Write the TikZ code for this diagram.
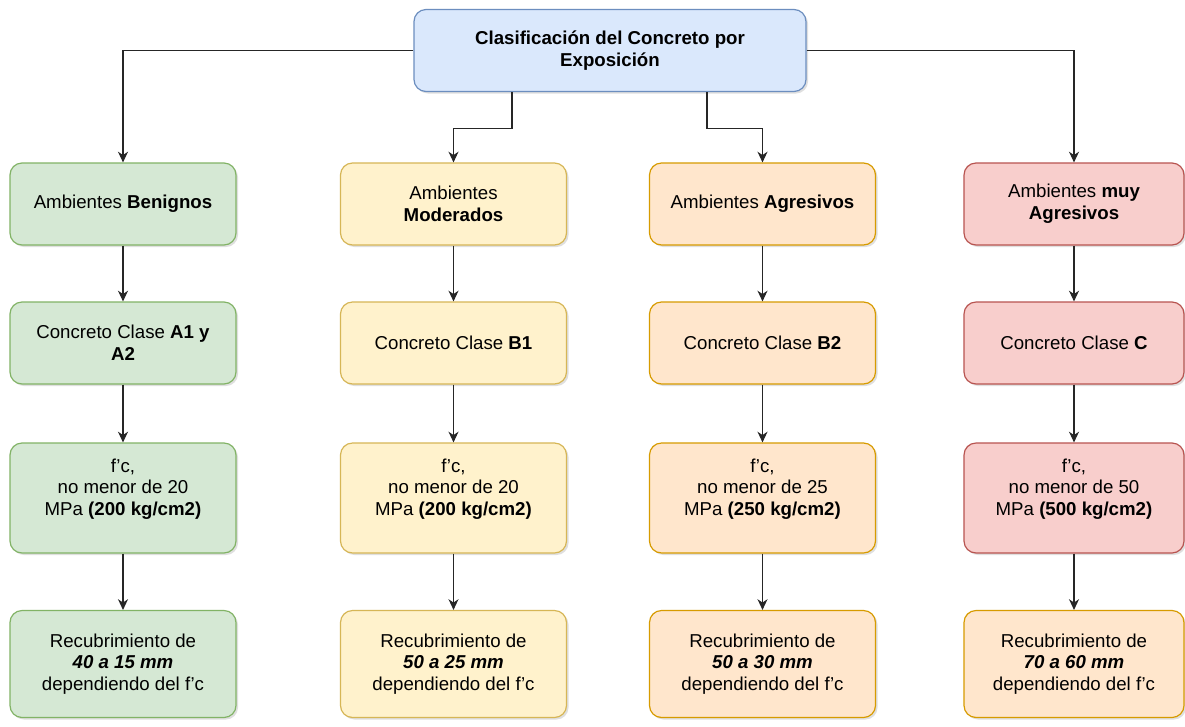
\documentclass[tikz,border=0pt]{standalone}
\usepackage{fontspec}
\setmainfont{Liberation Sans}
\usepackage{tikz}
\usetikzlibrary{shapes.geometric,arrows,arrows.meta,shadows}

\definecolor{bluefill}{HTML}{DAE8FC}
\definecolor{bluedraw}{HTML}{6C8EBF}
\definecolor{greenfill}{HTML}{D5E8D4}
\definecolor{greendraw}{HTML}{82B366}
\definecolor{yellowfill}{HTML}{FFF2CC}
\definecolor{yellowdraw}{HTML}{D6B656}
\definecolor{orangefill}{HTML}{FFE6CC}
\definecolor{orangedraw}{HTML}{D79B00}
\definecolor{redfill}{HTML}{F8CECC}
\definecolor{reddraw}{HTML}{B85450}

\tikzstyle{arrow} = [line width=0.8pt,->,>={Stealth[length=8pt,width=7.5pt,inset=2.5pt]},draw=black!85]
\tikzstyle{box} = [rectangle, rounded corners=9pt, line width=0.9pt, align=center,
  minimum width=169.5pt, minimum height=61.5pt, inner sep=2pt,
  font=\fontsize{14}{16.3}\selectfont,
  drop shadow={shadow xshift=1.5pt,shadow yshift=-1.5pt,opacity=0.25}]
\tikzstyle{tall} = [minimum height=82.5pt]
\tikzstyle{last} = [minimum height=80.25pt]
\tikzstyle{benigno} = [box, fill=greenfill, draw=greendraw]
\tikzstyle{moderado} = [box, fill=yellowfill, draw=yellowdraw]
\tikzstyle{agresivo} = [box, fill=orangefill, draw=orangedraw]
\tikzstyle{muyagresivo} = [box, fill=redfill, draw=reddraw]

\begin{document}
\begin{tikzpicture}[x=0.75pt,y=-0.75pt]
\useasboundingbox[fill=white] (0,0) rectangle (1185,726);

% titulo
\node[box, fill=bluefill, draw=bluedraw, minimum width=294pt] (top) at (610,50.5)
  {\textbf{Clasificación del Concreto por}\\ \textbf{Exposición}};

% ambientes
\node[benigno] (a1) at (123,204) {Ambientes \textbf{Benignos}};
\node[moderado] (b1) at (453.5,204) {Ambientes\\ \textbf{Moderados}};
\node[agresivo] (c1) at (762.5,204) {Ambientes \textbf{Agresivos}};
\node[muyagresivo, minimum width=165pt] (d1) at (1074,204) {Ambientes \textbf{muy}\\ \textbf{Agresivos}};

% clase de concreto
\node[benigno] (a2) at (123,343) {Concreto Clase \textbf{A1 y}\\ \textbf{A2}};
\node[moderado] (b2) at (453.5,343) {Concreto Clase \textbf{B1}};
\node[agresivo] (c2) at (762.5,343) {Concreto Clase \textbf{B2}};
\node[muyagresivo, minimum width=165pt] (d2) at (1074,343) {Concreto Clase \textbf{C}};

% resistencia
\node[benigno, tall] (a3) at (123,498) {f'c,\\ no menor de 20\\ MPa \textbf{(200 kg/cm2)}\\ \mbox{}};
\node[moderado, tall] (b3) at (453.5,498) {f'c,\\ no menor de 20\\ MPa \textbf{(200 kg/cm2)}\\ \mbox{}};
\node[agresivo, tall] (c3) at (762.5,498) {f'c,\\ no menor de 25\\ MPa \textbf{(250 kg/cm2)}\\ \mbox{}};
\node[muyagresivo, tall, minimum width=165pt] (d3) at (1074,498) {f'c,\\ no menor de 50\\ MPa \textbf{(500 kg/cm2)}\\ \mbox{}};

% recubrimiento
\node[benigno, last] (a4) at (123,664) {Recubrimiento de\\ \textbf{\textit{40 a 15 mm}}\\ dependiendo del f'c};
\node[moderado, last] (b4) at (453.5,664) {Recubrimiento de\\ \textbf{\textit{50 a 25 mm}}\\ dependiendo del f'c};
\node[agresivo, last] (c4) at (762.5,664) {Recubrimiento de\\ \textbf{\textit{50 a 30 mm}}\\ dependiendo del f'c};
\node[agresivo, last, minimum width=165pt] (d4) at (1074,664) {Recubrimiento de\\ \textbf{\textit{70 a 60 mm}}\\ dependiendo del f'c};

% conectores
\draw[arrow] (top.west) -| (a1.north);
\draw[arrow] (top.east) -| (d1.north);
\draw[arrow] ([xshift=-73.5pt]top.south) -- ++(0,36) -| (b1.north);
\draw[arrow] ([xshift=72.75pt]top.south) -- ++(0,36) -| (c1.north);

\foreach \col in {a,b,c,d}{
  \draw[arrow] (\col1) -- (\col2);
  \draw[arrow] (\col2) -- (\col3);
  \draw[arrow] (\col3) -- (\col4);
}
\end{tikzpicture}
\end{document}
